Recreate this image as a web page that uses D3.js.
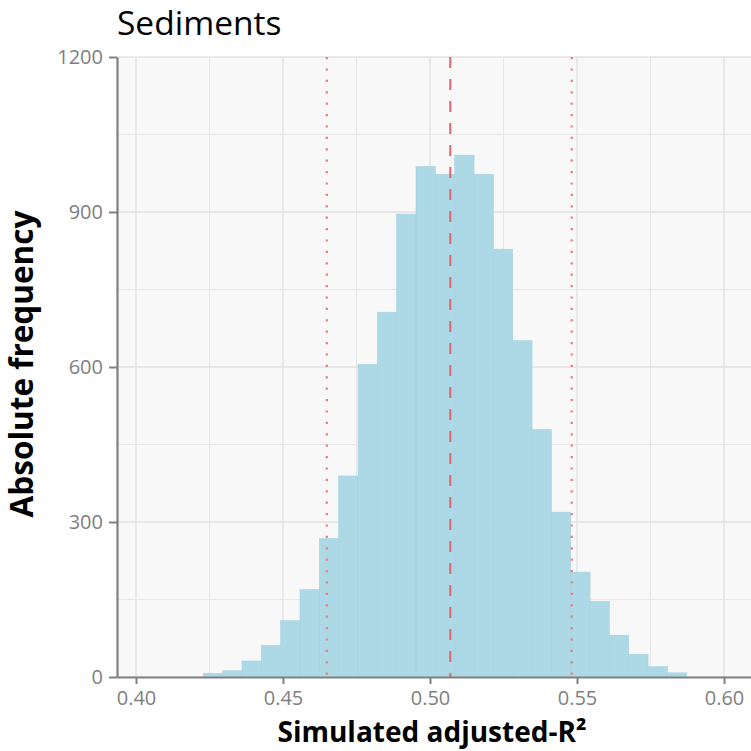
<!DOCTYPE html>
<html>
<head>
<meta charset="utf-8">
<script src="https://cdn.jsdelivr.net/npm/d3@7"></script>
<style>
  html, body { margin: 0; padding: 0; background: #ffffff; }
  svg { display: block; }
  text { font-family: "Open Sans", "Noto Sans", sans-serif; }
</style>
</head>
<body>
<svg id="chart" width="751" height="751"></svg>
<script>
// Histogram of simulated adjusted-R² (Sediments)
const binStart = 0.4229;          // left edge of first bin
const binWidth = 0.006577;        // width of each bin
const counts = [7, 12, 31, 61, 109, 169, 268, 389, 605, 706, 896, 988, 973,
                1010, 973, 828, 651, 479, 319, 203, 146, 81, 44, 20, 8];

const xTicks = [0.40, 0.45, 0.50, 0.55, 0.60];
const xMinor = [0.425, 0.475, 0.525, 0.575];
const yTicks = [0, 300, 600, 900, 1200];
const yMinor = [150, 450, 750, 1050];

const meanValue = 0.5069;          // dashed reference line
const intervalValues = [0.4649, 0.5482]; // dotted interval bounds

const titleText = "Sediments";
const xTitle = "Simulated adjusted-R²";
const yTitle = "Absolute frequency";

const bins = counts.map((c, i) => ({
  x0: binStart + i * binWidth,
  x1: binStart + (i + 1) * binWidth,
  count: c
}));

const svg = d3.select("#chart");
const panel = { left: 117, right: 751, top: 57, bottom: 677 };

const x = d3.scaleLinear()
  .domain([0.40 - 19 / 2940, 0.40 + 615 / 2940])
  .range([panel.left, panel.right]);
const y = d3.scaleLinear()
  .domain([0, 1200])
  .range([panel.bottom, panel.top]);

// panel background
svg.append("rect")
  .attr("x", panel.left).attr("y", panel.top)
  .attr("width", panel.right - panel.left)
  .attr("height", panel.bottom - panel.top)
  .attr("fill", "#f8f8f8");

const grid = svg.append("g");
// minor grid
grid.selectAll(".vmin").data(xMinor).join("line")
  .attr("x1", d => x(d)).attr("x2", d => x(d))
  .attr("y1", panel.top).attr("y2", panel.bottom)
  .attr("stroke", "#e6e6e6").attr("stroke-width", 1);
grid.selectAll(".hmin").data(yMinor).join("line")
  .attr("x1", panel.left).attr("x2", panel.right)
  .attr("y1", d => y(d)).attr("y2", d => y(d))
  .attr("stroke", "#e6e6e6").attr("stroke-width", 1);
// major grid
grid.selectAll(".vmaj").data(xTicks).join("line")
  .attr("x1", d => x(d)).attr("x2", d => x(d))
  .attr("y1", panel.top).attr("y2", panel.bottom)
  .attr("stroke", "#e2e2e2").attr("stroke-width", 1.4);
grid.selectAll(".hmaj").data(yTicks).join("line")
  .attr("x1", panel.left).attr("x2", panel.right)
  .attr("y1", d => y(d)).attr("y2", d => y(d))
  .attr("stroke", "#e2e2e2").attr("stroke-width", 1.4);

// bars
svg.append("g").selectAll("rect").data(bins).join("rect")
  .attr("x", d => x(d.x0))
  .attr("width", d => x(d.x1) - x(d.x0))
  .attr("y", d => y(d.count))
  .attr("height", d => y(0) - y(d.count))
  .attr("fill", "#add8e6")
  .attr("stroke", "#a7d2e1")
  .attr("stroke-width", 0.6);

// reference lines
svg.append("line")
  .attr("x1", x(meanValue)).attr("x2", x(meanValue))
  .attr("y1", panel.top).attr("y2", panel.bottom)
  .attr("stroke", "#e0646e").attr("stroke-width", 2)
  .attr("stroke-dasharray", "11,11");
svg.append("g").selectAll("line").data(intervalValues).join("line")
  .attr("x1", d => x(d)).attr("x2", d => x(d))
  .attr("y1", panel.top).attr("y2", panel.bottom)
  .attr("stroke", "#ec7880").attr("stroke-width", 2.2)
  .attr("stroke-dasharray", "2.2,9.2");

// axes
const axisColor = "#808080";
const xAxis = svg.append("g")
  .attr("transform", `translate(0,${panel.bottom})`)
  .call(d3.axisBottom(x).tickValues(xTicks).tickFormat(d3.format(".2f"))
    .tickSize(7).tickSizeOuter(0).tickPadding(6));
const yAxis = svg.append("g")
  .attr("transform", `translate(${panel.left},0)`)
  .call(d3.axisLeft(y).tickValues(yTicks).tickFormat(d3.format("d"))
    .tickSize(8).tickSizeOuter(0).tickPadding(6));

[xAxis, yAxis].forEach(g => {
  g.select(".domain").attr("stroke", axisColor).attr("stroke-width", 2.2);
  g.selectAll(".tick line").attr("stroke", axisColor).attr("stroke-width", 2);
  g.selectAll(".tick text")
    .attr("fill", "#7f7f7f")
    .style("font-size", "20px")
    .style("font-family", "'Open Sans', sans-serif");
});
xAxis.selectAll(".tick text").attr("dy", "0.75em");

// titles
svg.append("text")
  .attr("x", 117).attr("y", 35)
  .attr("fill", "#000")
  .style("font-size", "33.5px")
  .text(titleText);

svg.append("text")
  .attr("x", 432).attr("y", 742)
  .attr("text-anchor", "middle")
  .attr("fill", "#000")
  .style("font-size", "28px").style("font-weight", "bold")
  .text(xTitle);

svg.append("text")
  .attr("transform", "translate(33,364) rotate(-90)")
  .attr("text-anchor", "middle")
  .attr("fill", "#000")
  .style("font-size", "31.5px").style("font-weight", "bold")
  .text(yTitle);
</script>
</body>
</html>
